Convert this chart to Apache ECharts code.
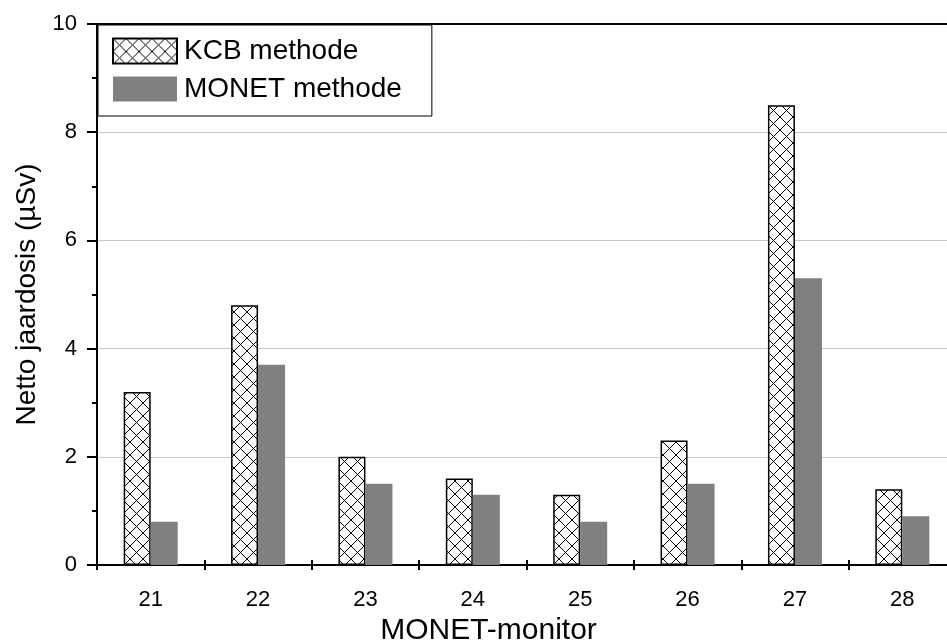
<!DOCTYPE html>
<html>
<head>
<meta charset="utf-8">
<script src="https://cdn.jsdelivr.net/npm/echarts@6/dist/echarts.min.js"></script>
<style>
html,body{margin:0;padding:0;background:#fff;}
#chart{width:947px;height:643px;}
</style>
</head>
<body>
<div id="chart"></div>
<script>
const categories = ['21','22','23','24','25','26','27','28'];
const kcbValues = [3.2, 4.8, 2.0, 1.6, 1.3, 2.3, 8.5, 1.4];
const monetValues = [0.8, 3.7, 1.5, 1.3, 0.8, 1.5, 5.3, 0.9];
const seriesNames = ['KCB methode', 'MONET methode'];

function hatch() {
  const s = 13;
  const c = document.createElement('canvas');
  c.width = s; c.height = s;
  const g = c.getContext('2d');
  g.fillStyle = '#fff';
  g.fillRect(0, 0, s, s);
  g.strokeStyle = '#000';
  g.lineWidth = 1;
  g.beginPath();
  g.moveTo(0, 0); g.lineTo(s, s);
  g.moveTo(s, 0); g.lineTo(0, s);
  g.stroke();
  return c;
}
const pattern = { image: hatch(), repeat: 'repeat' };
const font = '"Liberation Sans", Arial, sans-serif';

const chart = echarts.init(document.getElementById('chart'), null, {renderer: 'canvas'});
chart.setOption({
  animation: false,
  backgroundColor: '#fff',
  grid: { left: 97, top: 24, width: 859, height: 541, containLabel: false, outerBoundsMode: 'none' },
  legend: {
    orient: 'vertical',
    left: 98, top: 25,
    padding: [12, 30, 13, 14],
    itemGap: 10,
    itemWidth: 64, itemHeight: 25,
    icon: 'rect',
    borderColor: '#000', borderWidth: 1,
    backgroundColor: '#fff',
    textStyle: { fontFamily: font, fontSize: 28, color: '#000', padding: [0, 0, 0, 2] },
    data: seriesNames
  },
  xAxis: [
    {
      type: 'category', data: categories, position: 'bottom',
      name: 'MONET-monitor', nameLocation: 'middle', nameGap: 50,
      nameTextStyle: { fontFamily: font, fontSize: 30, color: '#000', padding: [0, 76, 0, 0] },
      axisLine: { lineStyle: { color: '#000', width: 2 } },
      axisTick: { show: true, inside: false, length: 5, lineStyle: { color: '#000', width: 2 } },
      axisLabel: { fontFamily: font, fontSize: 22, color: '#000', margin: 24 },
      splitLine: { show: false }
    },
    {
      type: 'category', data: categories, position: 'bottom', gridIndex: 0,
      axisLine: { show: false },
      axisTick: { show: true, inside: true, length: 5, lineStyle: { color: '#000', width: 2 } },
      axisLabel: { show: false },
      splitLine: { show: false }
    },
    {
      type: 'category', data: categories, position: 'top', gridIndex: 0,
      axisLine: { show: true, lineStyle: { color: '#000', width: 2 } },
      axisTick: { show: false },
      axisLabel: { show: false },
      splitLine: { show: false }
    }
  ],
  yAxis: {
    type: 'value', min: 0, max: 10, interval: 2,
    name: 'Netto jaardosis (\u00b5Sv)', nameLocation: 'middle', nameGap: 56,
    nameTextStyle: { fontFamily: font, fontSize: 28, color: '#000' },
    axisLine: { show: true, lineStyle: { color: '#000', width: 2 } },
    axisTick: { show: true, inside: false, length: 10, lineStyle: { color: '#000', width: 2 } },
    minorTick: { show: true, splitNumber: 2, length: 5, lineStyle: { color: '#000', width: 2 } },
    axisLabel: { fontFamily: font, fontSize: 22, color: '#000', margin: 20 },
    splitLine: { show: true, lineStyle: { color: '#c8c8c8', width: 1 } }
  },
  series: [
    {
      name: seriesNames[0], type: 'bar', data: kcbValues, barWidth: 27, barGap: '0%',
      itemStyle: { color: pattern, borderColor: '#000', borderWidth: 1.5 }
    },
    {
      name: seriesNames[1], type: 'bar', data: monetValues, barWidth: 27, barGap: '0%',
      itemStyle: { color: '#808080' }
    }
  ]
});
</script>
</body>
</html>
